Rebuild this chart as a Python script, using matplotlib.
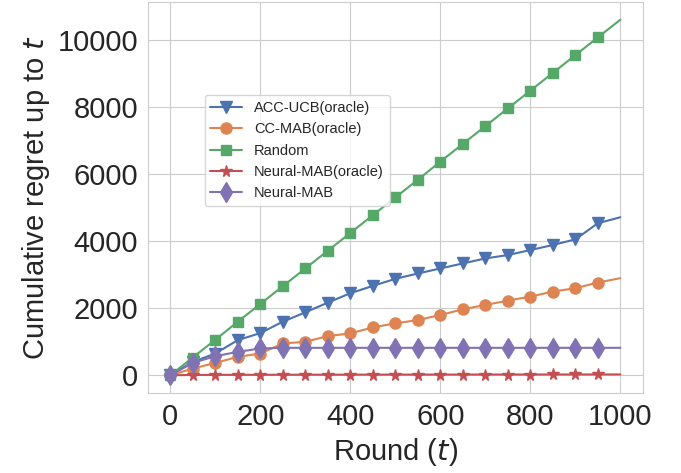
import matplotlib
matplotlib.use("Agg")
import matplotlib.pyplot as plt
import seaborn as sns

rounds = [0, 50, 100, 150, 200, 250, 300, 350, 400, 450, 500,
          550, 600, 650, 700, 750, 800, 850, 900, 950, 1000]

acc_ucb = [0, 400, 650, 1050, 1260, 1600, 1880, 2170, 2450, 2670, 2880,
           3040, 3190, 3340, 3490, 3590, 3740, 3890, 4060, 4540, 4720]
cc_mab = [0, 200, 370, 550, 650, 950, 1000, 1170, 1250, 1430, 1550,
          1650, 1800, 1970, 2100, 2230, 2350, 2500, 2600, 2770, 2900]
random_ = [0, 530, 1060, 1600, 2130, 2660, 3190, 3720, 4250, 4780, 5310,
           5840, 6380, 6910, 7440, 7970, 8500, 9030, 9560, 10090, 10620]
neural_oracle = [0, 10, 12, 14, 15, 16, 17, 18, 19, 20, 20,
                 21, 21, 22, 22, 23, 23, 24, 24, 25, 25]
neural_mab = [0, 370, 570, 700, 800, 820, 820, 820, 820, 820, 820,
              820, 820, 820, 820, 820, 820, 820, 820, 820, 820]

SERIES = [
    ("ACC-UCB(oracle)", acc_ucb, "v", 9),
    ("CC-MAB(oracle)", cc_mab, "o", 8),
    ("Random", random_, "s", 7.5),
    ("Neural-MAB(oracle)", neural_oracle, "*", 8.5),
    ("Neural-MAB", neural_mab, "d", 10),
]


def main() -> None:
    sns.set_style("whitegrid")
    plt.rcParams["font.family"] = ["Liberation Sans", "DejaVu Sans"]
    plt.rcParams["mathtext.fontset"] = "dejavusans"
    colors = sns.color_palette("deep")

    fig = plt.figure(figsize=(6.81, 4.73), dpi=100)
    ax = fig.add_axes([0.217, 0.169, 0.727, 0.827])

    for (label, values, marker, size), color in zip(SERIES, colors):
        ax.plot(rounds, values, marker=marker, markersize=size, linewidth=1.5,
                color=color, label=label, markevery=list(range(len(rounds) - 1)))

    ax.set_xlabel("Round ($t$)", fontsize=21, color="0.15")
    ax.set_ylabel("Cumulative regret up to $t$", fontsize=21, color="0.15")
    ax.tick_params(labelsize=21, colors="0.15")
    ax.set_xticks([0, 200, 400, 600, 800, 1000])
    ax.set_yticks([0, 2000, 4000, 6000, 8000, 10000])
    ax.legend(loc="upper left", bbox_to_anchor=(0.1, 0.78), fontsize=10.5,
              handlelength=2.2, borderpad=0.4, labelspacing=0.5)

    fig.savefig("out.png", dpi=100)
    plt.close(fig)


if __name__ == "__main__":
    main()
